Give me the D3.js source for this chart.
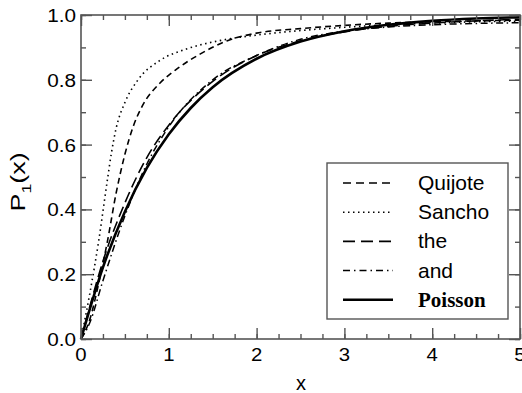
<!DOCTYPE html>
<html>
<head>
<meta charset="utf-8">
<script src="https://cdn.jsdelivr.net/npm/d3@7"></script>
<style>
body { margin: 0; background: #fff; }
svg { display: block; }
</style>
</head>
<body>
<div class="chart"></div>
<script>
// values, [x, P1(x)]
var quijote = [[0,0],[0.1,0.06],[0.2,0.17],[0.3,0.3],[0.4,0.45],[0.5,0.57],[0.6,0.66],[0.7,0.72],[0.9,0.79],[1.1,0.835],[1.36,0.88],[1.66,0.92],[2,0.944],[2.5,0.958],[3,0.968],[3.5,0.975],[4,0.979],[4.5,0.982],[5,0.984]];
var sancho = [[0,0],[0.1,0.14],[0.2,0.3],[0.3,0.49],[0.35,0.58],[0.4,0.65],[0.5,0.73],[0.65,0.8],[0.9,0.86],[1.2,0.895],[1.6,0.922],[2,0.938],[2.5,0.952],[3,0.962],[3.5,0.97],[4,0.975],[4.5,0.979],[5,0.981]];
var the = [[0,0],[0.1,0.1],[0.25,0.24],[0.5,0.42],[0.75,0.56],[1,0.66],[1.5,0.795],[2,0.875],[2.5,0.92],[3,0.948],[3.5,0.965],[4,0.975],[4.5,0.982],[5,0.987]];
var and = [[0,0],[0.1,0.05],[0.25,0.18],[0.5,0.38],[0.75,0.54],[1,0.655],[1.5,0.8],[2,0.875],[2.5,0.925],[3,0.95],[3.5,0.963],[4,0.97],[4.5,0.974],[5,0.976]];
var poisson = [[0,0],[0.25,0.221],[0.5,0.393],[0.75,0.528],[1,0.632],[1.25,0.713],[1.5,0.777],[2,0.865],[2.5,0.918],[3,0.95],[3.5,0.97],[4,0.982],[4.5,0.989],[5,0.993]];

var names = ["Quijote", "Sancho", "the", "and", "Poisson"];
var xTicks = [0, 1, 2, 3, 4, 5];
var yTicks = [0, 0.2, 0.4, 0.6, 0.8, 1.0];

function drawChart() {
var W = 522, H = 393;
var pl = 81, pr = 520, pt = 15, pb = 339;

var svg = d3.select(".chart").append("svg")
    .attr("width", W)
    .attr("height", H);

var x = d3.scaleLinear().domain([0, 5]).range([pl, pr]);
var y = d3.scaleLinear().domain([0, 1]).range([pb, pt]);

var axisColor = "#555";
var font = "Liberation Sans, Arial, sans-serif";
var styles = [
    {dash: "6,4", w: 1.6},
    {dash: "1.5,3.5", w: 1.6},
    {dash: "11,5", w: 1.6},
    {dash: "7,3.5,1.5,3.5", w: 1.5},
    {dash: null, w: 2.6}
];
var series = [quijote, sancho, the, and, poisson];

// curves
var line = d3.line()
    .x(function(d) { return x(d[0]); })
    .y(function(d) { return y(d[1]); })
    .curve(d3.curveMonotoneX);

var g = svg.append("g");
series.forEach(function(s, i) {
    g.append("path")
        .datum(s)
        .attr("d", line)
        .attr("fill", "none")
        .attr("stroke", "#000")
        .attr("stroke-width", styles[i].w)
        .attr("stroke-dasharray", styles[i].dash);
});

// ticks, inward on all four sides
function ticks(axis, vals, size) {
    return axis.tickValues(vals).tickSizeInner(-size).tickSizeOuter(0).tickFormat("");
}
var xMinor = d3.range(0, 5.001, 0.25);
var yMinor = d3.range(0, 1.001, 0.1);

svg.append("g").attr("transform", "translate(0," + pb + ")").call(ticks(d3.axisBottom(x), xMinor, 5));
svg.append("g").attr("transform", "translate(0," + pb + ")").call(ticks(d3.axisBottom(x), xTicks, 11));
svg.append("g").attr("transform", "translate(0," + pt + ")").call(ticks(d3.axisTop(x), xMinor, 5));
svg.append("g").attr("transform", "translate(0," + pt + ")").call(ticks(d3.axisTop(x), xTicks, 11));
svg.append("g").attr("transform", "translate(" + pl + ",0)").call(ticks(d3.axisLeft(y), yMinor, 5));
svg.append("g").attr("transform", "translate(" + pl + ",0)").call(ticks(d3.axisLeft(y), yTicks, 11));
svg.append("g").attr("transform", "translate(" + pr + ",0)").call(ticks(d3.axisRight(y), yMinor, 5));
svg.append("g").attr("transform", "translate(" + pr + ",0)").call(ticks(d3.axisRight(y), yTicks, 11));

svg.selectAll(".domain").remove();
svg.selectAll(".tick line").attr("stroke", axisColor).attr("stroke-width", 1.4);

svg.append("rect")
    .attr("x", pl).attr("y", pt)
    .attr("width", pr - pl).attr("height", pb - pt)
    .attr("fill", "none")
    .attr("stroke", axisColor)
    .attr("stroke-width", 1.6);

// tick labels
svg.selectAll(".xlab").data(xTicks).enter().append("text")
    .attr("transform", function(d) { return "translate(" + x(d) + ",361) scale(1.1,1)"; })
    .attr("text-anchor", "middle")
    .style("font-family", font)
    .style("font-size", "18.5px")
    .text(function(d) { return d; });

svg.selectAll(".ylab").data(yTicks).enter().append("text")
    .attr("transform", function(d) { return "translate(76," + (y(d) + 7) + ") scale(1.12,1)"; })
    .attr("text-anchor", "end")
    .style("font-family", font)
    .style("font-size", "18.5px")
    .text(function(d) { return d.toFixed(1); });

// axis titles
svg.append("text")
    .attr("x", 301)
    .attr("y", 390)
    .attr("text-anchor", "middle")
    .style("font-family", font)
    .style("font-size", "20px")
    .text("x");

var yt = svg.append("text")
    .attr("transform", "translate(25,182) rotate(-90) scale(1.35,1)")
    .attr("text-anchor", "middle")
    .style("font-family", font)
    .style("font-size", "20px");
yt.append("tspan").text("P");
yt.append("tspan").attr("dy", 6).style("font-size", "13px").text("1");
yt.append("tspan").attr("dy", -6).text("(x)");

// legend
var leg = svg.append("g");
leg.append("rect")
    .attr("x", 327).attr("y", 163)
    .attr("width", 181).attr("height", 156)
    .attr("fill", "#fff")
    .attr("stroke", axisColor)
    .attr("stroke-width", 1.4);

var legDash = ["8,5", "1.5,3.5", "12,6", "7,4,1.5,4", null];
names.forEach(function(n, i) {
    var ly = 190 + i * 29.2;
    leg.append("line")
        .attr("x1", 343).attr("x2", 393)
        .attr("y1", ly - 7).attr("y2", ly - 7)
        .attr("stroke", "#000")
        .attr("stroke-width", styles[i].w)
        .attr("stroke-dasharray", legDash[i]);
    var t = leg.append("text")
        .attr("x", 418).attr("y", ly)
        .style("font-size", "21px")
        .text(n);
    if (n == "Poisson") {
        t.style("font-family", "Liberation Serif, Times New Roman, serif").style("font-weight", "bold");
    } else {
        t.style("font-family", font);
    }
});
}

drawChart();
</script>
</body>
</html>
